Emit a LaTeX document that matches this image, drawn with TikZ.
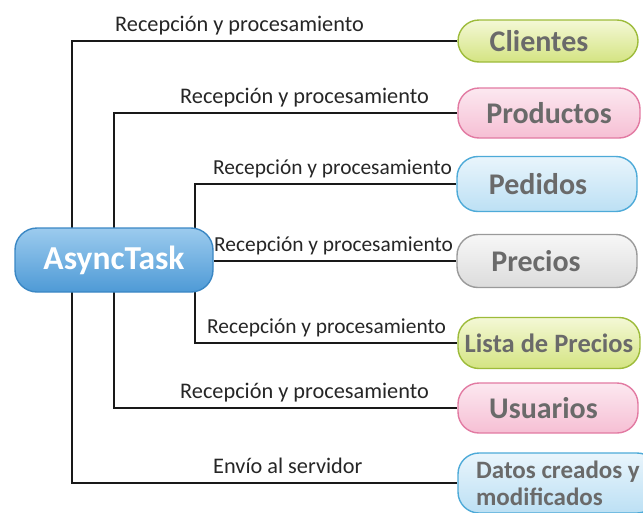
\documentclass[tikz,border=0pt]{standalone}
\usepackage{fontspec}
\setmainfont{Carlito}
\usetikzlibrary{positioning}
\pgfdeclarelayer{background}
\pgfsetlayers{background,main}
\definecolor{greenB}{HTML}{9DBB3A}
\definecolor{greenT}{HTML}{F4F8D6}
\definecolor{greenM}{HTML}{D4E482}
\definecolor{pinkB}{HTML}{E27AA2}
\definecolor{pinkT}{HTML}{FCE8F0}
\definecolor{pinkM}{HTML}{F6BFD4}
\definecolor{blueB}{HTML}{4DAAD8}
\definecolor{blueT}{HTML}{E9F5FC}
\definecolor{blueM}{HTML}{BCE0F4}
\definecolor{grayB}{HTML}{9A9A9A}
\definecolor{grayT}{HTML}{F7F7F7}
\definecolor{grayM}{HTML}{DCDCDC}
\definecolor{asyncB}{HTML}{3A87C4}
\definecolor{asyncT}{HTML}{9CCBEE}
\definecolor{asyncM}{HTML}{4E9AD6}
\definecolor{txtgray}{HTML}{6A6A6A}
\tikzset{
  pill/.style={rounded corners=21pt, line width=1.4pt, minimum width=180pt,
    font=\bfseries\fontsize{30}{32}\selectfont, text=txtgray, inner sep=0pt},
  greenpill/.style={pill, draw=greenB, top color=greenT, bottom color=greenM},
  pinkpill/.style={pill, draw=pinkB, top color=pinkT, bottom color=pinkM},
  bluepill/.style={pill, draw=blueB, top color=blueT, bottom color=blueM},
  graypill/.style={pill, draw=grayB, top color=grayT, bottom color=grayM},
  conn/.style={line width=1.6pt, black!90},
  lbl/.style={font=\fontsize{22.3}{24}\selectfont, anchor=base west, inner sep=0pt, text=black!85},
  lbls/.style={lbl, font=\fontsize{21.4}{23}\selectfont}
}
\begin{document}
\begin{tikzpicture}[x=1pt,y=1pt]
\useasboundingbox (0,0) rectangle (643,-512);
% central node
\node[rounded corners=22pt, line width=1.4pt, draw=asyncB, top color=asyncT, bottom color=asyncM,
  minimum width=198pt, minimum height=64pt, font=\bfseries\fontsize{33.5}{36}\selectfont, text=white]
  (async) at (114,-260) {AsyncTask};
% right nodes
\node[greenpill, minimum height=42pt] (cli) at (548,-41) {Clientes\hspace*{18pt}};
\node[pinkpill, minimum height=50pt, minimum width=182pt] (pro) at (549,-113) {Productos};
\node[bluepill, minimum height=55pt] (ped) at (547,-184) {Pedidos\hspace*{18pt}};
\node[graypill, minimum height=53pt] (pre) at (547,-261) {Precios\hspace*{22pt}};
\node[greenpill, minimum height=51pt, minimum width=182pt, font=\bfseries\fontsize{26.5}{28}\selectfont] (lis) at (549,-343) {Lista de Precios};
\node[pinkpill, minimum height=50pt] (usu) at (548,-408) {Usuarios\hspace*{9pt}};
\node[bluepill, minimum height=60pt, minimum width=200pt, align=left,
  font=\bfseries\fontsize{25}{27}\selectfont] (dat) at (558,-483) {Datos creados y\\modificados};
% trunk coordinates
\coordinate (t1) at (72,-41);
\coordinate (t1b) at (72,-483);
\coordinate (t2) at (114,-113);
\coordinate (t2b) at (114,-408);
\coordinate (t3) at (195,-184);
\coordinate (t3b) at (195,-343);
% connectors
\begin{pgfonlayer}{background}
\draw[conn] (cli.west) -- (t1) -- (t1b) -- (dat.west);
\draw[conn] (pro.west) -- (t2) -- (t2b) -- (usu.west);
\draw[conn] (ped.west) -- (t3) -- (t3b) -- (lis.west);
\draw[conn] (async.east |- pre.west) -- (pre.west);
\end{pgfonlayer}
% labels
\node[lbl] (l1) at (115,-31) {Recepción y procesamiento};
\node[lbl] (l2) at (180,-103) {Recepción y procesamiento};
\node[lbls] (l3) at (213,-174) {Recepción y procesamiento};
\node[lbls] (l4) at (214,-251) {Recepción y procesamiento};
\node[lbls] (l5) at (207,-333) {Recepción y procesamiento};
\node[lbl] (l6) at (180,-398) {Recepción y procesamiento};
\node[lbl] (l7) at (213,-473) {Envío al servidor};
\end{tikzpicture}
\end{document}
